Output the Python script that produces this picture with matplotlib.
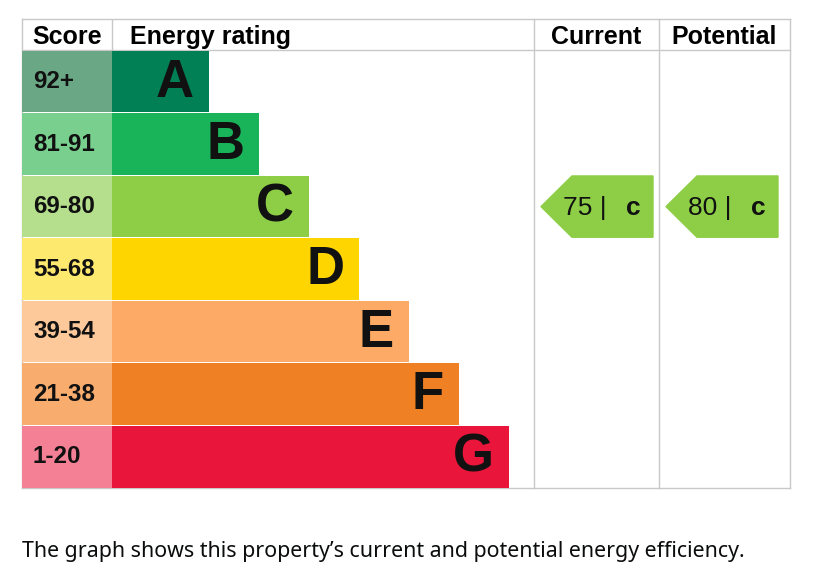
import matplotlib.pyplot as plt
from matplotlib.patches import Polygon

# EPC bands
bands = ['A', 'B', 'C', 'D', 'E', 'F', 'G']
score_labels = ['92+', '81-91', '69-80', '55-68', '39-54', '21-38', '1-20']
band_min = [92, 81, 69, 55, 39, 21, 1]
bar_length = [97, 147, 197, 247, 297, 347, 397]
bar_colors = ['#008054', '#19b459', '#8dce46', '#ffd500', '#fcaa65', '#ef8023', '#e9153b']
score_colors = ['#6aa785', '#78cf8e', '#b5df8d', '#fee96f', '#fdc99b', '#f8ad6f', '#f48096']

current = 75
potential = 80

def band_of(v):
    for i, lo in enumerate(band_min):
        if v >= lo:
            return i
    return len(band_min) - 1

plt.rcParams['font.family'] = ['Liberation Sans', 'DejaVu Sans']

fig = plt.figure(figsize=(8.3, 5.84), dpi=100)
ax = fig.add_axes([22 / 830, 96 / 584, 768 / 830, 469 / 584])
ax.set_xlim(0, 768)
ax.set_ylim(6.5, -1.0)
ax.axis('off')

score_w = 90
col_cur = 512
col_pot = 637
right = 768
grid_c = '#c8c8c8'

# table lines
for y in (-1.0, -0.5, 6.5):
    ax.plot([0, right], [y, y], color=grid_c, lw=1, zorder=1, clip_on=False)
for x in (0, col_cur, col_pot, right):
    ax.plot([x, x], [-1.0, 6.5], color=grid_c, lw=1, zorder=1, clip_on=False)
ax.plot([score_w, score_w], [-1.0, -0.5], color=grid_c, lw=1, zorder=1)

# header
hy = -0.72
hs = 18
ax.text(score_w / 2, hy, 'Score', ha='center', va='center', fontsize=hs, fontweight='bold')
ax.text(108, hy, 'Energy rating', ha='left', va='center', fontsize=hs, fontweight='bold')
ax.text((col_cur + col_pot) / 2, hy, 'Current', ha='center', va='center', fontsize=hs, fontweight='bold')
ax.text((col_pot + right) / 2, hy, 'Potential', ha='center', va='center', fontsize=hs, fontweight='bold')

rows = list(range(len(bands)))
ax.barh(rows, [score_w] * len(rows), left=0, height=0.985, color=score_colors, zorder=2)
ax.barh(rows, bar_length, left=score_w, height=0.985, color=bar_colors, zorder=2)

for i in rows:
    ax.text(11, i, score_labels[i], ha='left', va='center', fontsize=17.4, fontweight='bold', color='#111111', zorder=3)
    ax.text(score_w + bar_length[i] - 15, i + 0.02, bands[i], ha='right', va='center',
            fontsize=38, fontweight='bold', color='#111111', zorder=3)

def arrow(col, value):
    r = band_of(value)
    h = 0.49
    pts = [(col + 7, r), (col + 38, r - h), (col + 119, r - h), (col + 119, r + h), (col + 38, r + h)]
    ax.add_patch(Polygon(pts, closed=True, color=bar_colors[r], zorder=3))
    ax.text(col + 29, r + 0.02, f'{value} |', ha='left', va='center', fontsize=19, color='#111111', zorder=4)
    ax.text(col + 107, r + 0.02, bands[r].lower(), ha='right', va='center', fontsize=19,
            fontweight='bold', color='#111111', zorder=4)

arrow(col_cur, current)
arrow(col_pot, potential)

fig.text(22 / 830, 1 - 552 / 584, 'The graph shows this property\u2019s current and potential energy efficiency.',
         ha='left', va='center', fontsize=15.4, family=['Noto Sans', 'DejaVu Sans'], color='#0b0c0c')

fig.savefig('out.png', dpi=100)
